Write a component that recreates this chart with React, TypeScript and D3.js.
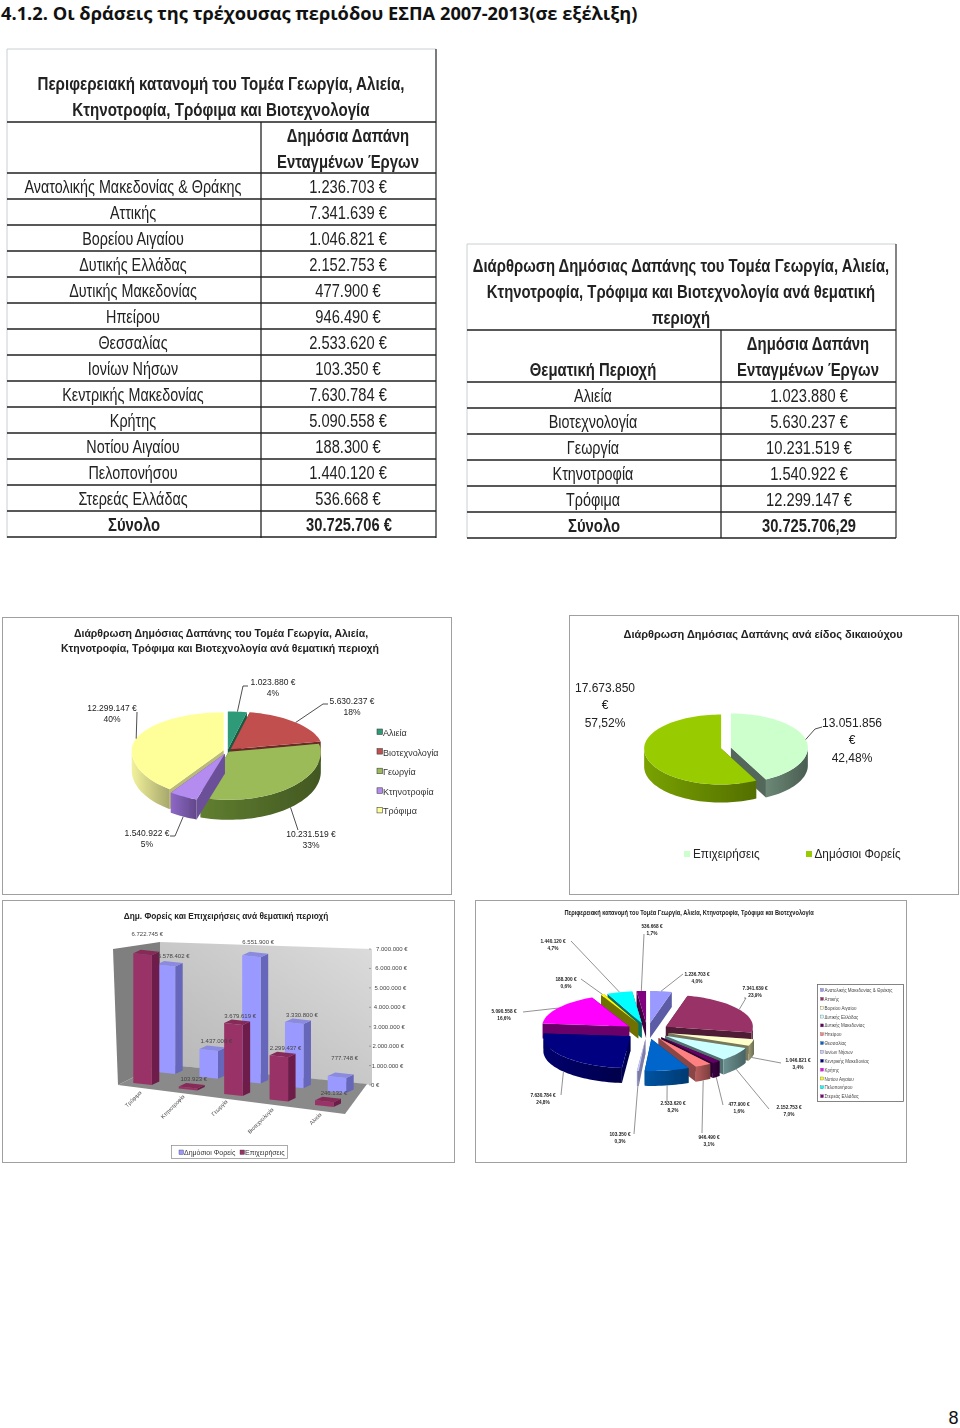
import React from 'react';
import * as d3 from 'd3';

// ---- data ----
const regions = ['Ανατολικής Μακεδονίας & Θράκης', 'Αττικής', 'Βορείου Αιγαίου', 'Δυτικής Ελλάδας', 'Δυτικής Μακεδονίας', 'Ηπείρου', 'Θεσσαλίας', 'Ιονίων Νήσων', 'Κεντρικής Μακεδονίας', 'Κρήτης', 'Νοτίου Αιγαίου', 'Πελοπονήσου', 'Στερεάς Ελλάδας'];
const regionValues = [1236703, 7341639, 1046821, 2152753, 477900, 946490, 2533620, 103350, 7630784, 5090558, 188300, 1440120, 536668];
const regionShares = ['4,0%', '23,9%', '3,4%', '7,0%', '1,6%', '3,1%', '8,2%', '0,3%', '24,8%', '16,6%', '0,6%', '4,7%', '1,7%'];
const regionTops = ['#9999ff', '#993366', '#ffffcc', '#ccffff', '#660066', '#ff8080', '#0066cc', '#ccccff', '#000080', '#ff00ff', '#ffff00', '#00ffff', '#800080'];
const regionWalls = ['#6a6ac0', '#5c1f3e', '#8a8a6a', '#5f8080', '#33003a', '#a05050', '#004a90', '#9090c0', '#000060', '#7a007a', '#808000', '#008080', '#4a004a'];

const themes = ['Αλιεία', 'Βιοτεχνολογία', 'Γεωργία', 'Κτηνοτροφία', 'Τρόφιμα'];
const themeValues = [1023880, 5630237, 10231519, 1540922, 12299147];
const themeShares = ['4%', '18%', '33%', '5%', '40%'];
const themeTops = ['#2f9a78', '#c0504d', '#9bbb59', '#b48cf0', '#ffff99'];
const themeWalls = ['#1c6a50', '#7a2f2d', '#55702a', '#7d5cb0', '#d6d68a'];

const ownerNames = ['Επιχειρήσεις', 'Δημόσιοι Φορείς'];
const ownerValues = [13051856, 17673850];
const ownerShares = ['42,48%', '57,52%'];
const ownerTops = ['#ccffcc', '#99cc00'];
const ownerWalls = ['#5f7868', '#6b8f00'];

const barCats = ['Τρόφιμα', 'Κτηνοτροφία', 'Γεωργία', 'Βιοτεχνολογία', 'Αλιεία'];
const publicValues = [5578402, 1437000, 6551900, 3330800, 777748];
const businessValues = [6722745, 103923, 3679619, 2299437, 246132];
const axisTicks = [0, 1000000, 2000000, 3000000, 4000000, 5000000, 6000000, 7000000];

const regionTotal = '30.725.706 €';
const themeTotal = '30.725.706,29';

// ---- layout ----
const SANS = '"Liberation Sans", Arial, sans-serif';
const locale = d3.formatLocale({ decimal: ',', thousands: '.', grouping: [3], currency: ['', '€'] });
const euro = (v: number) => `${locale.format(',d')(v)} €`;

type P = [number, number];

const T = ({ x, y, size, bold, anchor = 'middle', sx = 1, fill = '#222', rotate = 0, children }: any) => (
  <text
    transform={`translate(${x},${y}) rotate(${rotate}) scale(${sx},1)`}
    fontFamily={SANS}
    fontSize={size}
    fontWeight={bold ? 700 : 400}
    textAnchor={anchor}
    fill={fill}
  >
    {children}
  </text>
);

// flat 3d pie: ellipse squashed more at the back than at the front
const Pie3D = ({ id, cx, cy, rx, ryBack, ryFront, depth, values, tops, walls, explode, stroke, leaders, leaderColor = '#222' }: any) => {
  const arcs = d3.pie<number>().sort(null).value((d) => d)(values);
  const line = d3.line();
  const rim = (a: number, o: P): P => [
    o[0] + rx * Math.sin(a),
    o[1] - Math.cos(a) * (Math.cos(a) > 0 ? ryBack : ryFront),
  ];
  const slices = arcs.map((s, i) => {
    const mid = (s.startAngle + s.endAngle) / 2;
    const o: P = [cx + explode[i] * Math.sin(mid), cy - explode[i] * Math.cos(mid) * (ryFront / rx)];
    const n = Math.max(3, Math.ceil((s.endAngle - s.startAngle) / 0.04));
    const angles = d3.range(n + 1).map((k) => s.startAngle + ((s.endAngle - s.startAngle) * k) / n);
    const frontAngles = angles.filter((a) => Math.cos(a) <= 0.02);
    const down = (p: P): P => [p[0], p[1] + depth];
    const a0 = rim(s.startAngle, o);
    const a1 = rim(s.endAngle, o);
    const wallTop = frontAngles.map((a) => rim(a, o));
    return {
      i, mid, o,
      top: line([o, ...angles.map((a) => rim(a, o))]) + 'Z',
      cutA: line([o, a0, down(a0), down(o)]) + 'Z',
      cutB: line([o, a1, down(a1), down(o)]) + 'Z',
      wall: wallTop.length > 1 ? line([...wallTop, ...wallTop.slice().reverse().map(down)]) + 'Z' : null,
      start: (() => { const p = rim(mid, o); return Math.cos(mid) < 0 ? down(p) : p; })(),
    };
  });
  const order = slices.slice().sort((a, b) => -Math.cos(a.mid) - -Math.cos(b.mid));
  return (
    <g>
      <defs>
        {walls.map((c: string, i: number) => (
          <linearGradient key={i} id={`${id}-w${i}`} x1="0" x2="1" y1="0" y2="0">
            <stop offset="0" stopColor={d3.color(c)!.brighter(0.35).formatHex()} />
            <stop offset="1" stopColor={d3.color(c)!.darker(0.7).formatHex()} />
          </linearGradient>
        ))}
      </defs>
      {order.map((s) => (
        <g key={s.i}>
          <path d={s.cutA} fill={d3.color(walls[s.i])!.darker(0.4).formatHex()} />
          <path d={s.cutB} fill={d3.color(walls[s.i])!.darker(0.4).formatHex()} />
          {s.wall && <path d={s.wall} fill={`url(#${id}-w${s.i})`} />}
          <path d={s.top} fill={tops[s.i]} stroke={stroke ?? 'none'} strokeWidth={0.5} />
        </g>
      ))}
      {leaders &&
        slices.map((s) =>
          leaders[s.i] ? (
            <path key={s.i} d={line([s.start, ...leaders[s.i]]) as string} fill="none" stroke={leaderColor} strokeWidth={0.8} />
          ) : null,
        )}
    </g>
  );
};

// ---- tables ----
const LeftTable = () => {
  const rowY = d3.scaleLinear().domain([0, 14]).range([173, 537]);
  const rows = regions.map((r, i) => [r, euro(regionValues[i])]);
  return (
    <g>
      <rect x={7} y={49} width={429} height={488.5} fill="#fff" />
      <path d="M7,49H436V538M7,49V538" fill="none" stroke="#c8d0d0" strokeWidth={1} />
      <path d="M436,49V538" stroke="#333" strokeWidth={1.2} />
      <path d="M7,122H436" stroke="#222" strokeWidth={1.6} />
      <path d="M261,122V538" stroke="#222" strokeWidth={1.3} />
      {d3.range(15).map((i) => (
        <path key={i} d={`M7,${rowY(i)}H436`} stroke="#222" strokeWidth={1.6} />
      ))}
      <T x={221} y={90} size={17.5} bold sx={0.865}>Περιφερειακή κατανομή του Τομέα Γεωργία, Αλιεία,</T>
      <T x={221} y={116} size={17.5} bold sx={0.865}>Κτηνοτροφία, Τρόφιμα και Βιοτεχνολογία</T>
      <T x={348} y={142} size={17.5} bold sx={0.85}>Δημόσια Δαπάνη</T>
      <T x={348} y={168} size={17.5} bold sx={0.85}>Ενταγμένων Έργων</T>
      {rows.map((r, i) => (
        <g key={r[0]}>
          <T x={133} y={rowY(i) + 20} size={17.5} sx={0.82}>{r[0]}</T>
          <T x={348} y={rowY(i) + 20} size={17.5} sx={0.84}>{r[1]}</T>
        </g>
      ))}
      <T x={134} y={rowY(13) + 20} size={17.5} bold sx={0.85}>Σύνολο</T>
      <T x={349} y={rowY(13) + 20} size={17.5} bold sx={0.84}>{regionTotal}</T>
    </g>
  );
};

const RightTable = () => {
  const rowY = d3.scaleLinear().domain([0, 6]).range([382, 538]);
  return (
    <g>
      <rect x={467} y={244} width={429} height={294} fill="#fff" />
      <path d="M467,244H896M467,244V538" fill="none" stroke="#c8d0d0" strokeWidth={1} />
      <path d="M896,244V538" stroke="#333" strokeWidth={1.2} />
      <path d="M467,330H896" stroke="#222" strokeWidth={1.6} />
      <path d="M721,330V538" stroke="#222" strokeWidth={1.3} />
      {d3.range(7).map((i) => (
        <path key={i} d={`M467,${rowY(i)}H896`} stroke="#222" strokeWidth={1.6} />
      ))}
      <T x={681} y={272} size={17.5} bold sx={0.85}>Διάρθρωση Δημόσιας Δαπάνης του Τομέα Γεωργία, Αλιεία,</T>
      <T x={681} y={298} size={17.5} bold sx={0.85}>Κτηνοτροφία, Τρόφιμα και Βιοτεχνολογία ανά θεματική</T>
      <T x={681} y={324} size={17.5} bold sx={0.85}>περιοχή</T>
      <T x={808} y={350} size={17.5} bold sx={0.85}>Δημόσια Δαπάνη</T>
      <T x={808} y={376} size={17.5} bold sx={0.85}>Ενταγμένων Έργων</T>
      <T x={593} y={376} size={17.5} bold sx={0.85}>Θεματική Περιοχή</T>
      {themes.map((t, i) => (
        <g key={t}>
          <T x={593} y={rowY(i) + 19.5} size={17.5} sx={0.82}>{t}</T>
          <T x={809} y={rowY(i) + 19.5} size={17.5} sx={0.84}>{euro(themeValues[i])}</T>
        </g>
      ))}
      <T x={594} y={rowY(5) + 19.5} size={17.5} bold sx={0.85}>Σύνολο</T>
      <T x={809} y={rowY(5) + 19.5} size={17.5} bold sx={0.84}>{themeTotal}</T>
    </g>
  );
};

// ---- charts ----
const Frame = ({ x0, y0, x1, y1 }: any) => (
  <rect x={x0 + 0.5} y={y0 + 0.5} width={x1 - x0} height={y1 - y0} fill="#fff" stroke="#a0a0a0" strokeWidth={1} />
);

const themeLabelPos: P[] = [[273, 685], [352, 704], [311, 837], [147, 836], [112, 711]];
const themeLeaders: P[][] = [[[243, 686], [248, 686]], [[323, 704], [328, 704]], [[298, 830]], [[175, 836], [170, 836]], [[137, 712]]];
const ThemePie = () => (
  <g>
    <Frame x0={2} y0={617} x1={451} y1={894} />
    <T x={221} y={637} size={10.5} bold>Διάρθρωση Δημόσιας Δαπάνης του Τομέα Γεωργία, Αλιεία,</T>
    <T x={220} y={652} size={10.5} bold>Κτηνοτροφία, Τρόφιμα και Βιοτεχνολογία ανά θεματική περιοχή</T>
    <Pie3D id="theme" cx={227.5} cy={751} rx={92} ryBack={38} ryFront={48} depth={20} values={themeValues} tops={themeTops} walls={themeWalls} explode={[3, 4.5, 2, 6, 4]} leaders={themeLeaders} />
    {themeValues.map((v, i) => (
      <g key={i}>
        <T x={themeLabelPos[i][0]} y={themeLabelPos[i][1]} size={8.5}>{euro(v)}</T>
        <T x={themeLabelPos[i][0]} y={themeLabelPos[i][1] + 11} size={8.5}>{themeShares[i]}</T>
      </g>
    ))}
    {themes.map((t, i) => (
      <g key={t}>
        <rect x={377} y={729 + i * 19.6} width={5.5} height={5.5} fill={themeTops[i]} stroke="#444" strokeWidth={0.6} />
        <T x={383} y={736 + i * 19.6} size={9} anchor="start" fill="#333">{t}</T>
      </g>
    ))}
  </g>
);

const ownerLabelPos: P[] = [[852, 727], [605, 692]];
const OwnerPie = () => (
  <g>
    <Frame x0={569} y0={615} x1={958} y1={894} />
    <T x={763} y={638} size={11} bold>Διάρθρωση Δημόσιας Δαπάνης ανά είδος δικαιούχου</T>
    <Pie3D id="owner" cx={726} cy={748} rx={77} ryBack={34} ryFront={36} depth={18} values={ownerValues} tops={ownerTops} walls={ownerWalls} explode={[5, 5, 5]} leaders={[[[815, 729], [822, 727]], null]} />
    {ownerValues.map((v, i) => (
      <g key={i}>
        <T x={ownerLabelPos[i][0]} y={ownerLabelPos[i][1]} size={12}>{locale.format(',d')(v)}</T>
        <T x={ownerLabelPos[i][0]} y={ownerLabelPos[i][1] + 17} size={12}>€</T>
        <T x={ownerLabelPos[i][0]} y={ownerLabelPos[i][1] + 35} size={12}>{ownerShares[i]}</T>
      </g>
    ))}
    {ownerNames.map((n, i) => (
      <g key={n}>
        <rect x={684 + i * 122} y={851} width={6} height={6} fill={ownerTops[i]} />
        <T x={693 + i * 121.5} y={858} size={12} anchor="start" sx={0.98}>{n}</T>
      </g>
    ))}
  </g>
);

const barBusX = d3.scaleLinear().domain([0, 4]).range([133.3, 315]);
const barBusBase = d3.scaleLinear().domain([0, 4]).range([1083, 1105]);
const barPubX = d3.scaleLinear().domain([0, 4]).range([156.7, 327.7]);
const barPubBase = d3.scaleLinear().domain([0, 4]).range([1072, 1091]);
const barH = d3.scaleLinear().domain([0, 7000000]).range([0, 135]);
const axisY = d3.scaleLinear().domain([0, 7000000]).range([1085, 949]);
const tickX = d3.scaleLinear().domain([0, 7000000]).range([371, 376]);
const BAR_W = 18.5;
const DX = 7.5;
const DY = -3.5;
const SKEW = 2;
const busLabelLift = [17, 5, 5, 5, 5];
const pubLabelLift = [6, 6, 11, 5, 16];
const busLabelShift = [0, 1, 2, 2, 5];
const pubLabelShift = [2, 2, 1, 2, 2];
const catLabelX = [142, 185, 228, 274, 322];
const catLabelY = [1093, 1097, 1102, 1110, 1115];

const Bar = ({ x, base, h, front, side, top }: any) => {
  const line = d3.line();
  const t = base - h;
  return (
    <g>
      <path d={line([[x + BAR_W, base + SKEW], [x + BAR_W + DX, base + SKEW + DY], [x + BAR_W + DX, t + SKEW + DY], [x + BAR_W, t + SKEW]]) + 'Z'} fill={side} />
      <path d={line([[x, base], [x + BAR_W, base + SKEW], [x + BAR_W, t + SKEW], [x, t]]) + 'Z'} fill={front} />
      <path d={line([[x, t], [x + BAR_W, t + SKEW], [x + BAR_W + DX, t + SKEW + DY], [x + DX, t + DY]]) + 'Z'} fill={top} />
    </g>
  );
};

const BarChart = () => (
  <g>
    <Frame x0={2} y0={900} x1={454} y1={1162} />
    <T x={226} y={918.5} size={9.5} bold sx={0.875}>Δημ. Φορείς και Επιχειρήσεις ανά θεματική περιοχή</T>
    <defs>
      <linearGradient id="backwall" x1="0" x2="1" y1="1" y2="0">
        <stop offset="0" stopColor="#b4b4b4" />
        <stop offset="1" stopColor="#dcdcdc" />
      </linearGradient>
    </defs>
    <path d="M113,949L160,942V1064L118,1085Z" fill="#7f7f7f" />
    <path d="M160,942L372,949V1085L160,1064Z" fill="url(#backwall)" />
    <path d="M118,1085L160,1064L367,1084L345,1114Z" fill="#8a8a8a" />
    {axisTicks.map((v) => (
      <g key={v}>
        <path d={`M369,${axisY(v)}h2`} stroke="#777" strokeWidth={0.6} />
        <T x={tickX(v)} y={axisY(v) + 2} size={6} anchor="start" fill="#444">{euro(v)}</T>
      </g>
    ))}
    {barCats.map((c, i) => (
      <Bar key={c} x={barPubX(i)} base={barPubBase(i)} h={barH(publicValues[i])} front="#9999ff" side="#6666bb" top="#8a8ae0" />
    ))}
    {barCats.map((c, i) => (
      <Bar key={c} x={barBusX(i)} base={barBusBase(i)} h={barH(businessValues[i])} front="#993366" side="#6e1f48" top="#862a58" />
    ))}
    {barCats.map((c, i) => (
      <g key={c}>
        <T x={barPubX(i) + 15 + pubLabelShift[i]} y={barPubBase(i) - barH(publicValues[i]) - pubLabelLift[i]} size={6} fill="#444">{euro(publicValues[i])}</T>
        <T x={barBusX(i) + 14 + busLabelShift[i]} y={barBusBase(i) - barH(businessValues[i]) - busLabelLift[i]} size={6} fill="#444">{euro(businessValues[i])}</T>
        <T x={catLabelX[i]} y={catLabelY[i]} size={5.5} anchor="end" fill="#444" rotate={-45}>{c}</T>
      </g>
    ))}
    <rect x={171.5} y={1145.5} width={116} height={13} fill="#fff" stroke="#888" strokeWidth={0.7} />
    <rect x={179} y={1150} width={4.5} height={4.5} fill="#9999ff" stroke="#444" strokeWidth={0.4} />
    <T x={184} y={1155} size={7} anchor="start" fill="#333">Δημόσιοι Φορείς</T>
    <rect x={240} y={1150} width={4.5} height={4.5} fill="#993366" stroke="#444" strokeWidth={0.4} />
    <T x={245} y={1155} size={7} anchor="start" fill="#333">Επιχειρήσεις</T>
  </g>
);

const regionLabelPos: P[] = [[697, 976], [755, 990], [798, 1062], [789, 1109], [739, 1106], [709, 1139], [673, 1105], [620, 1136], [543, 1097], [504, 1013], [566, 981], [553, 943], [652, 928]];
const regionLeaders: P[][] = [[[683, 974]], [[746, 998], [744, 998]], [[781, 1063]], [[769, 1109]], [[723, 1105]], [[702, 1133]], [[667, 1101]], [[634, 1134]], [[561, 1095]], [[523, 1012]], [[581, 979]], [[571, 941]], [[644, 934]]];
const RegionPie = () => (
  <g>
    <Frame x0={475} y0={900} x1={906} y1={1162} />
    <T x={689} y={915} size={6.5} bold sx={0.87}>Περιφερειακή κατανομή του Τομέα Γεωργία, Αλιεία, Κτηνοτροφία, Τρόφιμα και Βιοτεχνολογία</T>
    <Pie3D id="region" cx={647.3} cy={1031} rx={87} ryBack={32} ryFront={32} depth={15} values={regionValues} tops={regionTops} walls={regionWalls} explode={regionValues.map(() => 22)} leaders={regionLeaders} leaderColor="#777" />
    {regionValues.map((v, i) => (
      <g key={i}>
        <T x={regionLabelPos[i][0]} y={regionLabelPos[i][1]} size={5.6} bold sx={0.85}>{euro(v)}</T>
        <T x={regionLabelPos[i][0]} y={regionLabelPos[i][1] + 6.5} size={5.6} bold sx={0.85}>{regionShares[i]}</T>
      </g>
    ))}
    <rect x={817.5} y={984.5} width={86} height={117} fill="#fff" stroke="#666" strokeWidth={0.8} />
    {regions.map((r, i) => (
      <g key={r}>
        <rect x={820.5} y={988.5 + i * 8.85} width={3} height={3} fill={regionTops[i]} stroke="#555" strokeWidth={0.3} />
        <T x={824.5} y={992 + i * 8.85} size={4.5} anchor="start" fill="#444">{r}</T>
      </g>
    ))}
  </g>
);

const App = () => (
  <svg width={960} height={1428} style={{ position: 'absolute', left: 0, top: 0, background: '#fff' }}>
    <defs>
      <filter id="soft" x="-2%" y="-2%" width="104%" height="104%">
        <feGaussianBlur stdDeviation="0.45" />
      </filter>
    </defs>
    <text transform="translate(1,19.5) scale(1.026,1)" fontFamily='"Open Sans", sans-serif' fontWeight={700} fontSize={17.8} fill="#111">
      4.1.2. Οι δράσεις της τρέχουσας περιόδου ΕΣΠΑ 2007-2013(σε εξέλιξη)
    </text>
    <text x={958.5} y={1424} textAnchor="end" fontFamily={SANS} fontSize={18} fill="#111">8</text>
    <g filter="url(#soft)">
      <LeftTable />
      <RightTable />
      <ThemePie />
      <OwnerPie />
      <BarChart />
      <RegionPie />
    </g>
  </svg>
);

export default App;
